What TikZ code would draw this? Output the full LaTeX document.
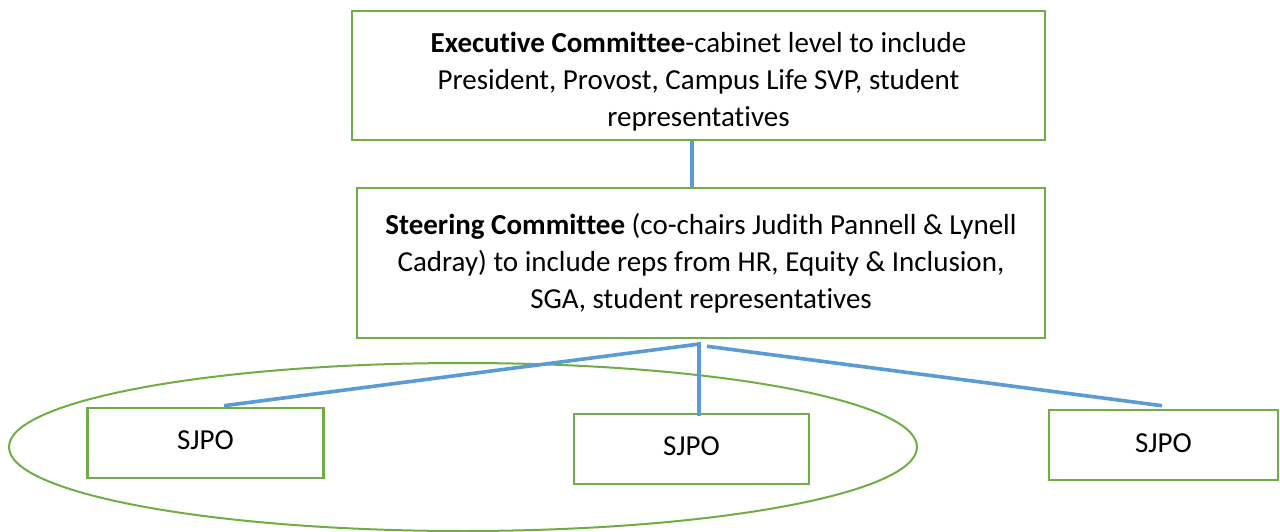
\documentclass[tikz,border=0pt]{standalone}
\usepackage{fontspec}
\setmainfont{Carlito}[Ligatures=NoCommon]
\usetikzlibrary{shapes.geometric}
\definecolor{boxgreen}{HTML}{70AD47}
\definecolor{linkblue}{HTML}{5B9BD5}
\tikzset{
  box/.style={draw=boxgreen, line width=2.6pt, fill=white, rectangle, inner sep=0pt,
    align=center, font=\fontsize{29}{37}\selectfont},
  link/.style={draw=linkblue, line width=3.6pt},
  group/.style={draw=boxgreen, line width=2pt, ellipse, inner sep=0pt}
}
\begin{document}
\begin{tikzpicture}[x=1pt,y=-1pt]
\useasboundingbox (0,0) rectangle (1280,532);
% grouping ellipse
\node[group, minimum width=908pt, minimum height=168pt] (grp) at (463,447) {};
% boxes
\node[box, minimum width=693pt, minimum height=129pt] (exec) at (698.5,75.5)
  {\rule{0pt}{32pt}\textbf{Executive Committee}-cabinet level to include\\President, Provost, Campus Life SVP, student\\representatives};
\node[box, minimum width=688pt, minimum height=150pt] (steer) at (701,263)
  {\textbf{Steering Committee} (co-chairs Judith Pannell \& Lynell\\Cadray) to include reps from HR, Equity \& Inclusion,\\SGA, student representatives};
\node[box, minimum width=236pt, minimum height=70pt] (s1) at (205.5,443) {\raisebox{5pt}{SJPO}};
\node[box, minimum width=235pt, minimum height=70pt] (s2) at (691.5,449) {\raisebox{5pt}{SJPO}};
\node[box, minimum width=229pt, minimum height=70pt] (s3) at (1163.5,445) {\raisebox{4pt}{SJPO}};
% connectors
\draw[link] ([xshift=-6.5pt]exec.south) -- ([xshift=-6.5pt]exec.south |- steer.north);
\coordinate (hubL) at ([xshift=-4pt,yshift=-5pt]steer.south);
\coordinate (hubM) at ([xshift=-2pt,yshift=-3pt]steer.south);
\coordinate (hubR) at ([xshift=6pt,yshift=-7pt]steer.south);
\draw[link] (hubL) -- ([xshift=18.5pt,yshift=1pt]s1.north);
\draw[link] (hubM) -- ([xshift=7.5pt,yshift=-3pt]s2.north);
\draw[link] (hubR) -- ([xshift=-1.5pt,yshift=3pt]s3.north);
\end{tikzpicture}
\end{document}
